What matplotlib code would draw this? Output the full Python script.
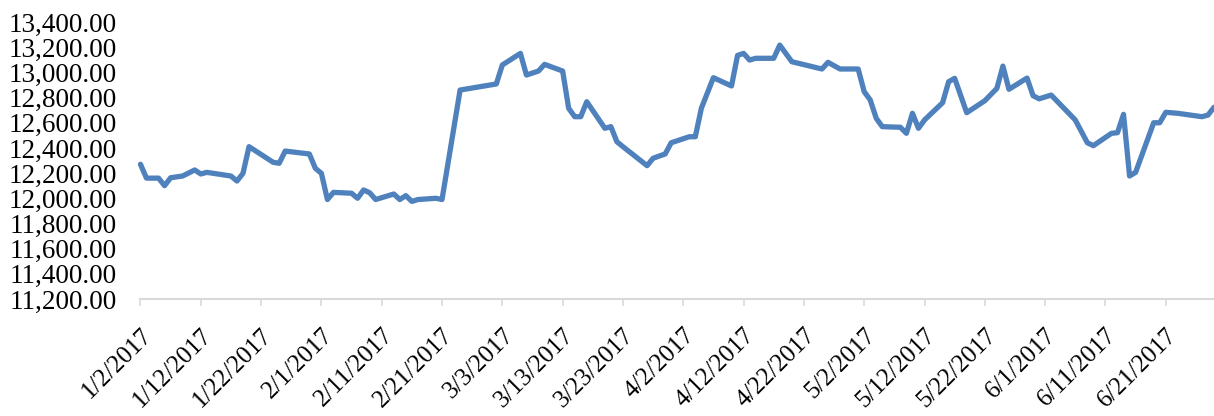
import pandas as pd
import matplotlib
matplotlib.use("Agg")
import matplotlib.pyplot as plt
from matplotlib.ticker import FuncFormatter

# ========================================
# DATA
# ========================================
fechas = [
    "2017-01-02", "2017-01-03", "2017-01-05", "2017-01-06", "2017-01-07",
    "2017-01-09", "2017-01-11", "2017-01-12", "2017-01-13", "2017-01-17",
    "2017-01-18", "2017-01-19", "2017-01-20", "2017-01-24", "2017-01-25",
    "2017-01-26", "2017-01-30", "2017-01-31", "2017-02-01", "2017-02-02",
    "2017-02-03", "2017-02-06", "2017-02-07", "2017-02-08", "2017-02-09",
    "2017-02-10", "2017-02-13", "2017-02-14", "2017-02-15", "2017-02-16",
    "2017-02-17", "2017-02-20", "2017-02-21", "2017-02-24", "2017-03-02",
    "2017-03-03", "2017-03-06", "2017-03-07", "2017-03-09", "2017-03-10",
    "2017-03-13", "2017-03-14", "2017-03-15", "2017-03-16", "2017-03-17",
    "2017-03-20", "2017-03-21", "2017-03-22", "2017-03-23", "2017-03-27",
    "2017-03-28", "2017-03-30", "2017-03-31", "2017-04-03", "2017-04-04",
    "2017-04-05", "2017-04-07", "2017-04-10", "2017-04-11", "2017-04-12",
    "2017-04-13", "2017-04-14", "2017-04-17", "2017-04-18", "2017-04-20",
    "2017-04-25", "2017-04-26", "2017-04-28", "2017-05-01", "2017-05-02",
    "2017-05-03", "2017-05-04", "2017-05-05", "2017-05-08", "2017-05-09",
    "2017-05-10", "2017-05-11", "2017-05-12", "2017-05-15", "2017-05-16",
    "2017-05-17", "2017-05-19", "2017-05-22", "2017-05-24", "2017-05-25",
    "2017-05-26", "2017-05-29", "2017-05-30", "2017-05-31", "2017-06-02",
    "2017-06-06", "2017-06-08", "2017-06-09", "2017-06-12", "2017-06-13",
    "2017-06-14", "2017-06-15", "2017-06-16", "2017-06-19", "2017-06-20",
    "2017-06-21", "2017-06-23", "2017-06-27", "2017-06-28", "2017-06-29",
]
valores = [
    12270, 12160, 12160, 12100, 12163,
    12177, 12225, 12193, 12206, 12177,
    12137, 12198, 12410, 12286, 12278,
    12375, 12352, 12238, 12198, 11990,
    12047, 12040, 12000, 12066, 12044,
    11990, 12034, 11990, 12021, 11975,
    11990, 12000, 11990, 12860, 12908,
    13059, 13151, 12979, 13011, 13064,
    13011, 12715, 12648, 12648, 12767,
    12556, 12569, 12449, 12410, 12259,
    12318, 12352, 12441, 12489, 12489,
    12715, 12958, 12892, 13135, 13151,
    13098, 13112, 13112, 13217, 13085,
    13027, 13080, 13027, 13027, 12847,
    12781, 12635, 12569, 12564, 12516,
    12675, 12556, 12622, 12759, 12926,
    12953, 12680, 12775, 12873, 13050,
    12866, 12955, 12815, 12790, 12820,
    12622, 12441, 12418, 12516, 12521,
    12667, 12177, 12206, 12600, 12600,
    12683, 12675, 12648, 12661, 12723,
]
tick_inicio = "2017-01-02"
tick_fin = "2017-06-21"
fecha_fin = "2017-06-29"
y_min, y_max, y_paso = 11200, 13400, 200

fechas = pd.to_datetime(fechas)

# ========================================
# FIGURE
# ========================================
plt.rcParams["font.family"] = ["Liberation Serif", "DejaVu Serif"]

fig = plt.figure(figsize=(12.14, 4.16), dpi=100)
ax = fig.add_axes([0.1157, 0.2813, 0.8843, 0.6657])

ax.plot(fechas, valores, color="#4F81BD", linewidth=3.8,
        solid_joinstyle="round", solid_capstyle="round", clip_on=False)

ax.set_ylim(y_min, y_max)
ax.set_yticks(range(y_min, y_max + 1, y_paso))
ax.yaxis.set_major_formatter(FuncFormatter(lambda v, p: f"{v:,.2f}"))
ax.tick_params(axis="y", length=0, pad=17, labelsize=19.5)

ax.set_xlim(pd.Timestamp(tick_inicio), pd.Timestamp(fecha_fin))
ticks = pd.date_range(tick_inicio, tick_fin, freq="10D")
ax.set_xticks(ticks)
ax.set_xticklabels([f"{d.month}/{d.day}/{d.year}" for d in ticks])
ax.tick_params(axis="x", length=5, width=1.2, color="#d9d9d9",
               pad=13, labelsize=18, direction="out")
for lbl in ax.get_xticklabels():
    lbl.set_rotation(45)
    lbl.set_ha("right")
    lbl.set_va("top")
    lbl.set_rotation_mode("anchor")

for lado in ["top", "right", "left"]:
    ax.spines[lado].set_visible(False)
ax.spines["bottom"].set_color("#d9d9d9")
ax.spines["bottom"].set_linewidth(1.5)

plt.savefig("out.png", dpi=100)
plt.close()
